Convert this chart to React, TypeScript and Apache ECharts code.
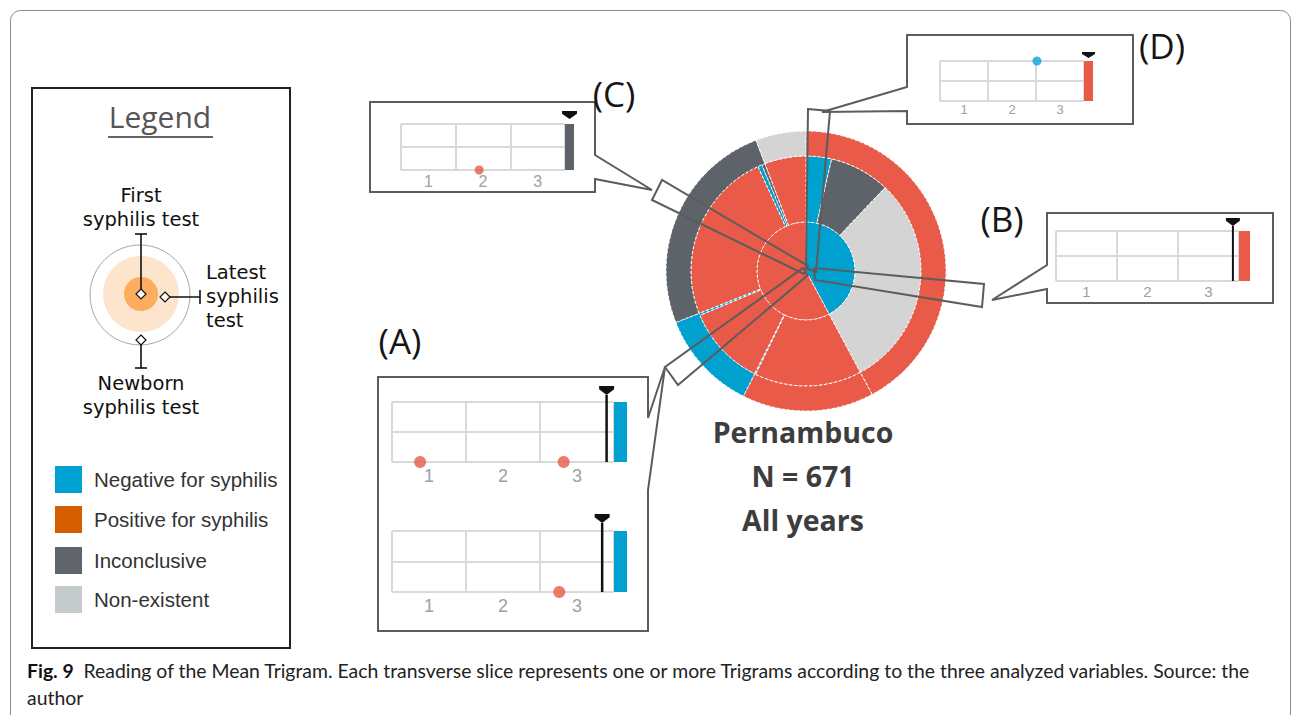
import React, { useEffect, useRef } from 'react';
import * as echarts from 'echarts';

// ---------- DATA ----------
const resultNames = ['Negative', 'Positive', 'Inconclusive', 'Non-existent'];
const resultColors = ['#00A0CF', '#E95A48', '#5D6369', '#D4D4D4'];

// one row per transverse slice (trigram): first test, latest test, newborn test, count
const trigramFirst = ['Negative', 'Negative', 'Negative', 'Positive', 'Positive', 'Positive', 'Positive', 'Positive', 'Positive', 'Positive', 'Positive'];
const trigramLatest = ['Negative', 'Inconclusive', 'Non-existent', 'Positive', 'Negative', 'Positive', 'Negative', 'Positive', 'Negative', 'Inconclusive', 'Positive'];
const trigramNewborn = ['Positive', 'Positive', 'Positive', 'Positive', 'Positive', 'Negative', 'Negative', 'Inconclusive', 'Inconclusive', 'Inconclusive', 'Non-existent'];
const trigramCount = [24, 57, 202, 101, 1, 76, 2, 162, 4, 3, 39];

const regionName = 'Pernambuco';
const periodLabel = 'All years';

const legendLabels = ['Negative for syphilis', 'Positive for syphilis', 'Inconclusive', 'Non-existent'];
const legendSwatchColors = ['#00A2D3', '#D55E00', '#5F656B', '#C5CBCC'];
const ringLabels = ['First\nsyphilis test', 'Latest\nsyphilis\ntest', 'Newborn\nsyphilis test'];

// mean-trigram insets
const insetIds = ['A1', 'A2', 'B', 'C', 'D'];
const insetTitles = ['(A)', '(B)', '(C)', '(D)'];
const insetColumns = ['1', '2', '3'];
const insetDots: Record<string, [number, number, string][]> = {
  A1: [[0.38, 0, 'Positive'], [2.32, 0, 'Positive']],
  A2: [[2.26, 0, 'Positive']],
  B: [],
  C: [[1.43, 0, 'Positive']],
  D: [[2.02, 2, 'Negative']],
};
const insetMarker: Record<string, number | null> = { A1: 2.9, A2: 2.84, B: 2.9, C: null, D: null };
const insetBar: Record<string, string> = { A1: 'Negative', A2: 'Negative', B: 'Positive', C: 'Inconclusive', D: 'Positive' };

const captionBold = 'Fig. 9';
const captionLines = [
  'Reading of the Mean Trigram. Each transverse slice represents one or more Trigrams according to the three analyzed variables. Source: the',
  'author',
];

// ---------- LAYOUT / STYLE ----------
const colorOf = (n: string) => resultColors[resultNames.indexOf(n)];
const CENTER: [number, number] = [806, 271];
const LINE = '#5c5c5c';
const CAPTION_SIZE = 19.4;

const insetLayout: Record<string, any> = {
  A1: { left: 392, top: 402, width: 222, height: 60, barW: 13, dot: 12, tri: [15, 9], gap: 7, lineW: 2.5, label: 18, margin: 5 },
  A2: { left: 392, top: 531, width: 222, height: 61, barW: 13, dot: 12, tri: [15, 9], gap: 8, lineW: 2.5, label: 18, margin: 5 },
  B: { left: 1056, top: 231, width: 183, height: 50, barW: 11, dot: 10, tri: [14, 8], gap: 5, lineW: 2, label: 15, margin: 3 },
  C: { left: 401, top: 124, width: 164, height: 46, barW: 9, dot: 9, tri: [15, 8], gap: 5, lineW: 2, label: 16, margin: 3 },
  D: { left: 940, top: 61, width: 144, height: 40, barW: 9, dot: 9, tri: [13, 6], gap: 3, lineW: 2, label: 13, margin: 2 },
};
const titlePos: [number, number][] = [[400, 340], [1002, 218], [614, 93], [1162, 45]];

const calloutBoxes: number[][][] = [
  [[370, 102], [595, 102], [595, 155], [652, 190], [595, 179], [595, 192], [370, 192]],
  [[907, 35], [1133, 35], [1133, 124], [907, 124], [907, 111], [822, 112], [907, 87]],
  [[1047, 213], [1273, 213], [1273, 303], [1047, 303], [1047, 289], [992, 300], [1047, 265]],
  [[378, 377], [648, 377], [648, 418], [665, 367], [648, 490], [648, 631], [378, 631]],
];
const leaders: number[][][] = [
  [[662, 180], [652, 200], [804, 274], [808, 266]],
  [[808, 109], [830, 111], [816, 272], [806, 268]],
  [[984, 284], [982, 307], [815, 280], [814, 268]],
  [[665, 367], [678, 385], [808, 275], [803, 268]],
];

function buildOption() {
  // sunburst: inner = first test, middle = latest test
  const sunData: any[] = [];
  trigramFirst.forEach((f, i) => {
    let g = sunData[sunData.length - 1];
    if (!g || g.name !== f) {
      g = { name: f, itemStyle: { color: colorOf(f) }, children: [] };
      sunData.push(g);
    }
    g.children.push({ name: trigramLatest[i], value: trigramCount[i], itemStyle: { color: colorOf(trigramLatest[i]) } });
  });
  // outer ring = newborn test, consecutive equal results merged within each first-test group
  const pieData: any[] = [];
  let prevKey = '';
  trigramFirst.forEach((f, i) => {
    const key = f + '|' + trigramNewborn[i];
    if (key === prevKey) {
      pieData[pieData.length - 1].value += trigramCount[i];
    } else {
      pieData.push({ name: trigramNewborn[i], value: trigramCount[i], itemStyle: { color: colorOf(trigramNewborn[i]) } });
    }
    prevKey = key;
  });
  const total = trigramCount.reduce((a, b) => a + b, 0);

  const grids: any[] = [];
  const xAxes: any[] = [];
  const yAxes: any[] = [];
  const series: any[] = [
    {
      type: 'sunburst',
      center: CENTER,
      radius: [0, 115],
      sort: null,
      nodeClick: false,
      startAngle: 90,
      silent: true,
      levels: [{}, { r0: 0, r: 49 }, { r0: 49, r: 115 }],
      itemStyle: { borderColor: '#ffffff', borderWidth: 1, borderType: [3, 2] },
      label: { show: false },
      emphasis: { disabled: true },
      data: sunData,
    },
    {
      type: 'pie',
      center: CENTER,
      radius: [115, 140],
      startAngle: 90,
      clockwise: true,
      silent: true,
      label: { show: false },
      labelLine: { show: false },
      itemStyle: { borderColor: '#ffffff', borderWidth: 1, borderType: [3, 2] },
      emphasis: { disabled: true },
      data: pieData,
    },
  ];

  insetIds.forEach((id, k) => {
    const L = insetLayout[id];
    grids.push({ left: L.left, top: L.top, width: L.width, height: L.height, containLabel: false });
    xAxes.push({
      type: 'value', gridIndex: k, min: 0, max: 3, interval: 1, position: 'bottom',
      axisLine: { show: false }, axisTick: { show: false }, axisLabel: { show: false },
      splitLine: { show: true, lineStyle: { color: '#d9d9d9', width: 2 } },
    });
    xAxes.push({
      type: 'category', gridIndex: k, data: insetColumns, position: 'bottom',
      axisLine: { show: false }, axisTick: { show: false }, splitLine: { show: false },
      axisLabel: { color: '#9ea0a8', fontSize: L.label, margin: L.margin, fontFamily: 'Liberation Sans, Arial, sans-serif' },
    });
    yAxes.push({
      type: 'value', gridIndex: k, min: 0, max: 2, interval: 1,
      axisLine: { show: false }, axisTick: { show: false }, axisLabel: { show: false },
      splitLine: { show: true, lineStyle: { color: '#d9d9d9', width: 2 } },
    });
    const marker = insetMarker[id];
    const barColor = colorOf(insetBar[id]);
    series.push({
      type: 'custom',
      xAxisIndex: 2 * k,
      yAxisIndex: k,
      clip: false,
      silent: true,
      z: 4,
      data: [[3, 0]],
      renderItem: (_p: any, api: any) => {
        const tl = api.coord([3, 2]);
        const bl = api.coord([3, 0]);
        const children: any[] = [
          { type: 'rect', shape: { x: tl[0], y: tl[1], width: L.barW, height: bl[1] - tl[1] }, style: { fill: barColor } },
        ];
        const triBottom = tl[1] - L.gap;
        let mx = tl[0] + L.barW / 2;
        if (marker != null) {
          mx = api.coord([marker, 0])[0];
          children.push({ type: 'line', shape: { x1: mx, y1: bl[1], x2: mx, y2: triBottom }, style: { stroke: '#111', lineWidth: L.lineW } });
        }
        const [tw, th] = L.tri;
        children.push({
          type: 'polygon',
          shape: { points: [[mx - tw / 2, triBottom - th], [mx + tw / 2, triBottom - th], [mx + tw / 2, triBottom - th * 0.65], [mx, triBottom], [mx - tw / 2, triBottom - th * 0.65]] },
          style: { fill: '#111' },
        });
        return { type: 'group', children };
      },
    });
    series.push({
      type: 'scatter',
      xAxisIndex: 2 * k,
      yAxisIndex: k,
      clip: false,
      silent: true,
      z: 5,
      symbolSize: L.dot,
      data: insetDots[id].map((d) => ({ value: [d[0], d[1]], itemStyle: { color: d[2] === 'Negative' ? '#12A3DB' : '#E95A48' } })),
    });
  });

  const g: any[] = [];
  // outer figure frame
  g.push({ type: 'rect', shape: { x: 10.5, y: 10.5, width: 1280, height: 730, r: 10 }, style: { fill: 'none', stroke: '#8a8a8a', lineWidth: 1 } });
  // legend box
  g.push({ type: 'rect', shape: { x: 32, y: 88, width: 258, height: 560 }, style: { fill: 'none', stroke: '#222', lineWidth: 2 } });
  g.push({ type: 'text', x: 160, y: 116, style: { text: 'Legend', fontSize: 30, fontFamily: 'Open Sans', fill: '#555', align: 'center', verticalAlign: 'middle' } });
  g.push({ type: 'line', shape: { x1: 108, y1: 137, x2: 213, y2: 137 }, style: { stroke: '#666', lineWidth: 2 } });
  const lt = (text: string, x: number, y: number, align = 'center') => ({
    type: 'text', x, y, style: { text, fontSize: 19.5, lineHeight: 24, fontFamily: '"DejaVu Sans", sans-serif', fill: '#111', align, verticalAlign: 'middle' },
  });
  g.push(lt(ringLabels[0], 141, 207));
  g.push(lt(ringLabels[1], 206, 296, 'left'));
  g.push(lt(ringLabels[2], 141, 395));
  g.push({ type: 'circle', shape: { cx: 140, cy: 295, r: 50 }, style: { fill: 'none', stroke: '#a8a8a8', lineWidth: 1 } });
  g.push({ type: 'circle', shape: { cx: 141, cy: 294, r: 38 }, style: { fill: '#FCE4CD' } });
  g.push({ type: 'circle', shape: { cx: 141, cy: 294, r: 17 }, style: { fill: '#FCAD5E' } });
  const ln = (x1: number, y1: number, x2: number, y2: number) => ({ type: 'line', shape: { x1, y1, x2, y2 }, style: { stroke: '#111', lineWidth: 1.6 } });
  g.push(ln(141, 234, 141, 294), ln(135, 234, 147, 234));
  g.push(ln(165, 297, 200, 297), ln(200, 290, 200, 304));
  g.push(ln(141, 340, 141, 368), ln(135, 368, 147, 368));
  const dia = (cx: number, cy: number) => ({
    type: 'polygon', shape: { points: [[cx, cy - 5], [cx + 5, cy], [cx, cy + 5], [cx - 5, cy]] }, style: { fill: '#fff', stroke: '#111', lineWidth: 1.2 },
  });
  g.push(dia(141, 294), dia(165, 297), dia(141, 340));
  const swatchY = [466, 506, 547, 586];
  legendLabels.forEach((lab, i) => {
    g.push({ type: 'rect', shape: { x: 55, y: swatchY[i], width: 27, height: 27 }, style: { fill: legendSwatchColors[i] } });
    g.push({ type: 'text', x: 94, y: swatchY[i] + 13.5, style: { text: lab, fontSize: 20.5, fontFamily: 'Liberation Sans, Arial, sans-serif', fill: '#333', align: 'left', verticalAlign: 'middle' } });
  });
  // callout boxes
  calloutBoxes.forEach((pts) => {
    g.push({ type: 'polygon', shape: { points: pts }, style: { fill: 'none', stroke: LINE, lineWidth: 2 } });
  });
  // leaders over the sunburst
  leaders.forEach((pts) => {
    g.push({ type: 'polygon', z: 100, shape: { points: pts }, style: { fill: 'none', stroke: LINE, lineWidth: 2 } });
  });
  insetTitles.forEach((t, i) => {
    g.push({ type: 'text', x: titlePos[i][0], y: titlePos[i][1], style: { text: t, fontSize: 35, fontFamily: 'Open Sans', fill: '#151515', align: 'center', verticalAlign: 'middle' } });
  });
  // centre titles
  const centreLines = [regionName, `N = ${total}`, periodLabel];
  centreLines.forEach((t, i) => {
    g.push({ type: 'text', x: 803, y: 432 + i * 44, style: { text: t, fontSize: 28.5, fontWeight: 'bold', fontFamily: 'Open Sans', fill: '#3d3d3d', align: 'center', verticalAlign: 'middle' } });
  });
  // caption
  g.push({
    type: 'text', x: 27, y: 670,
    style: {
      text: `{b|${captionBold}}  ${captionLines[0]}`,
      fontSize: CAPTION_SIZE, fontFamily: 'Lato', fill: '#222', align: 'left', verticalAlign: 'middle',
      rich: { b: { fontSize: CAPTION_SIZE, fontFamily: 'Lato', fontWeight: 'bold', fill: '#111' } },
    },
  });
  g.push({ type: 'text', x: 27, y: 697, style: { text: captionLines[1], fontSize: CAPTION_SIZE, fontFamily: 'Lato', fill: '#222', align: 'left', verticalAlign: 'middle' } });

  return {
    animation: false,
    backgroundColor: '#ffffff',
    grid: grids,
    xAxis: xAxes,
    yAxis: yAxes,
    series,
    graphic: { elements: g },
  };
}

export default function App() {
  const ref = useRef<HTMLDivElement>(null);
  useEffect(() => {
    if (!ref.current) return;
    const chart = echarts.init(ref.current, null, { renderer: 'svg' });
    chart.setOption(buildOption() as any);
    return () => chart.dispose();
  }, []);
  return <div ref={ref} style={{ position: 'fixed', left: 0, top: 0, width: 1293, height: 715 }} />;
}
